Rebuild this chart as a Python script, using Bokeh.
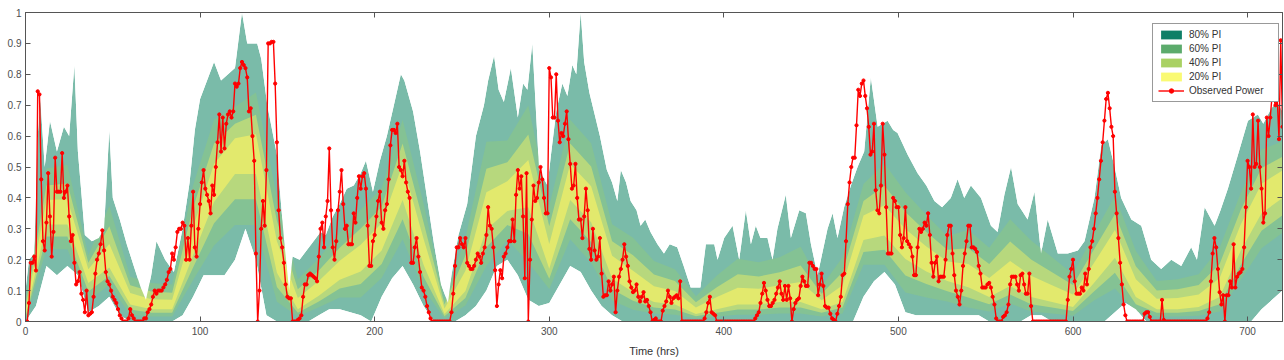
import numpy as np
from bokeh.plotting import figure
from bokeh.models import Range1d, LinearAxis, FixedTicker, CustomJSTickFormatter, Legend, LegendItem
from bokeh.embed import file_html
from bokeh.resources import INLINE

# Observed power, hourly (h = 0 .. 720)
obs = [
    0, 0, .06, .19, .19, .21, .165, .745, .735, .46, .26, .23, .32, .48, .34, .21, .29, .53, .42, .42, .42, .545, .40, .42,
    .44, .34, .26, .28, .19, .12, .13, .16, .09, .07, .03, .10, .02, .025, .03, .08, .155, .20, .22, .25, .295, .23, .16, .13,
    .12, .10, .08, .07, .06, .04, .02, .01, 0, 0, 0, .01, .04, .02, .01, 0, 0, 0, 0, 0, .01, .01, .03, .04,
    .055, .08, .10, .09, .10, .10, .10, .11, .12, .135, .16, .17, .22, .20, .24, .29, .30, .30, .32, .31, .20, .27, .20, .31,
    .42, .24, .21, .30, .38, .45, .49, .43, .41, .39, .35, .44, .41, .50, .58, .67, .55, .66, .56, .64, .67, .68, .66, .68,
    .77, .76, .77, .82, .84, .83, .82, .79, .68, .69, .60, .52, .22, 0, .10, .30, .39, .31, .49, .90, .90, .905, .905, .77,
    .58, .36, .27, .24, .19, .12, .08, .075, .075, 0, 0, 0, .005, .01, .02, .08, .12, .12, .15, .155, .15, .145, .14, .13,
    .21, .30, .32, .24, .34, .39, .56, .36, .24, .20, .26, .36, .42, .49, .38, .30, .31, .25, .25, .25, .35, .32, .40, .47,
    .43, .47, .48, .43, .31, .18, .18, .26, .28, .34, .39, .42, .32, .30, .36, .38, .46, .57, .62, .62, .61, .64, .50, .49,
    .47, .52, .45, .42, .40, .19, .19, .24, .27, .21, .16, .11, .10, .08, .05, .03, .01, 0, 0, 0, 0, 0, 0, 0,
    0, 0, 0, 0, .03, .09, .18, .24, .24, .27, .25, .24, .27, .19, .18, .17, .17, .18, .20, .22, .21, .19, .22, .24,
    .28, .37, .31, .30, .24, .166, .05, .12, .166, .14, .21, .22, .24, .26, .26, .33, .26, .41, .49, .43, .47, .34, .14, .48,
    0, .20, .33, .44, .39, .40, .45, .50, .46, .40, .35, .35, .82, .79, .66, .66, .80, .65, .58, .61, .60, .64, .68, .59,
    .51, .43, .44, .51, .40, .33, .33, .27, .34, .43, .36, .235, .20, .30, .23, .20, .21, .27, .155, .08, .085, .085, .13, .10,
    .12, .145, .03, .10, .145, .17, .20, .25, .21, .18, .13, .11, .095, .10, .12, .08, .065, .08, .095, .065, .07, .05, .03, 0,
    .005, .01, 0, 0, 0, .035, .05, .065, .10, .08, .06, .075, .08, .085, .075, .13, 0, 0, 0, 0, 0, 0, 0, 0,
    0, 0, 0, 0, 0, .01, .03, .06, .08, .03, .025, .02, 0, 0, 0, 0, 0, 0, 0, 0, 0, 0, 0, 0,
    0, 0, 0, 0, 0, 0, 0, 0, 0, 0, .01, .02, .03, .06, .09, .125, .10, .07, .05, .05, .06, .07, .09, .11,
    .13, .09, .07, .115, .07, .115, .075, 0, .04, .06, .07, .075, .115, .145, .13, .115, .115, .19, .19, .18, .17, .17, .085, .12,
    .155, .115, .05, .045, .045, .025, .01, .005, 0, .025, .05, .08, .15, .155, .26, .38, .45, .50, .53, .53, .635, .75, .73, .77,
    .78, .73, .69, .63, .54, .55, .64, .425, .36, .35, .44, .64, .54, .37, .22, .22, .22, .40, .39, .37, .37, .28, .24, .27,
    .37, .26, .25, .24, .21, .15, .15, .24, .30, .29, .30, .32, .31, .35, .28, .19, .145, .19, .21, .13, .145, .145, .145, .20,
    .28, .31, .31, .22, .15, .10, .08, .055, .10, .18, .22, .26, .31, .31, .24, .24, .235, .225, .18, .155, .11, .11, .11, .12,
    .125, .11, .08, .055, .01, 0, 0, 0, .015, .02, .03, .055, .12, .145, .145, .145, .12, .10, .15, .155, .12, .09, .09, .155,
    .05, 0, 0, 0, 0, 0, 0, 0, 0, 0, 0, 0, 0, 0, 0, 0, 0, 0, 0, 0, 0, .07, .145, .17,
    .20, .13, .09, .09, .09, .11, .10, .155, .12, .17, .24, .26, .30, .35, .40, .46, .52, .58, .65, .72, .74, .69, .63, .60,
    .42, .35, .27, .19, .12, .055, .02, 0, 0, 0, 0, 0, 0, 0, 0, 0, 0, .025, .03, .03, .015, 0, 0, 0,
    0, 0, 0, .07, .005, 0, 0, 0, 0, 0, 0, 0, 0, 0, 0, 0, 0, 0, 0, 0, 0, 0, 0, 0,
    0, 0, 0, 0, 0, .01, .03, .13, .22, .27, .24, .17, .095, .055, .085, 0, .085, .085, .13, .11, .25, .11, .145, .155,
    .16, .17, .24, .37, .52, .50, .43, .67, .50, .51, .65, .50, .43, .32, .35, .66, .60, .66, .73, .72, .70, .72, .59, .91, .63,
]
hours = list(range(len(obs)))

# 80% prediction interval: lower edge every 6 h
pi80_lo = [
    0, .05, .18, .15, .18, .15, .03, .05, .08, .02, 0, 0, 0, 0, 0, .02, .08, .15, .15, .15, .20,
    .30, .20, .02, 0, 0, 0, 0, .02, .04, .04, .03, .02, 0, .08, .14, .18, .12, .05, 0, 0,
    0, .02, .05, .10, .18, .20, .15, .07, .05, .06, .12, .18, .16, .10, .05, .02, 0, 0, 0, 0,
    0, 0, 0, 0, 0, 0, 0, 0, 0, 0, 0, 0, 0, 0, 0, 0, 0, 0, 0, .08, .13,
    .16, .12, .03, .02, .02, .02, .02, .02, .02, .02, 0, 0, 0, 0, .02, .02, 0, 0, 0, 0, 0,
    0, .03, .06, .04, 0, 0, 0, 0, 0, 0, 0, 0, 0, 0, 0, .04, .07, .10, .16, .20, .21,
]
lo_hours = [6 * i for i in range(len(pi80_lo))]

# 80% prediction interval: upper edge, read at its corners
pi80_hi_t = [
    0, 2, 5, 7, 8.5, 11, 14, 18, 22, 25, 28, 30, 31.5, 34, 38, 42, 45, 48, 50, 54,
    58, 62, 66, 69, 72, 75, 80, 85, 90, 94, 97, 100, 104, 108, 112, 116, 120, 124, 127, 132.7,
    135, 138.5, 144, 148, 151, 153, 157, 161, 165, 169, 172, 176, 180, 184, 188, 192, 195, 199, 203, 207,
    211, 215, 217, 222, 226, 230, 234, 238, 242, 244, 248, 253, 258, 262.6, 265, 268.4, 271, 274, 278, 282,
    285, 287.5, 290.3, 294.2, 299, 301, 304, 307.5, 310.4, 313.2, 315.5, 318, 320, 323, 325.6, 329, 333, 336, 339, 341,
    344, 346.6, 350, 352.3, 355, 358, 362, 365.7, 369, 373.3, 377, 381, 386.6, 389.7, 394.5, 396.4, 400.2, 405, 408.8, 412.6,
    415.5, 418.3, 421, 425, 427.9, 430.7, 435.5, 438.4, 443.2, 447, 449.9, 453.7, 459.4, 462.3, 465.1, 468.9, 472.8, 476.6, 480.4, 484.2,
    488.1, 493.8, 497, 499.5, 505.3, 511, 516, 520.6, 525, 530, 533.9, 537.7, 541.5, 547.3, 553, 556.8, 560.7, 564.5, 568.3, 574,
    577.9, 581.7, 585.5, 591.3, 597, 602.8, 606.6, 612.3, 616.2, 620, 623.8, 627.6, 633.4, 639.1, 644.8, 650.5, 656.3, 662, 667.7, 671,
    675.4, 681.1, 684.5, 688.7, 694.5, 700.2, 705.9, 709, 713.6, 717, 720,
]
pi80_hi = [
    .10, .20, .22, .60, .72, .50, .65, .55, .63, .60, .83, .55, .45, .28, .26, .27, .30, .62, .40, .33,
    .25, .18, .11, .07, .15, .26, .20, .16, .30, .45, .62, .72, .78, .84, .78, .80, .82, 1.0, .90, .90,
    .85, .70, .54, .27, .10, .21, .20, .23, .26, .29, .28, .34, .38, .43, .44, .48, .52, .42, .52, .60,
    .70, .80, .78, .68, .55, .40, .25, .12, .06, .15, .28, .38, .60, .70, .78, .86, .75, .71, .82, .66,
    .77, .75, .90, .49, .44, .54, .68, .77, .73, .83, .80, 1.0, .84, .74, .68, .60, .49, .45, .39, .49,
    .45, .39, .36, .31, .33, .29, .25, .22, .25, .24, .18, .11, .11, .25, .25, .20, .27, .31, .20, .36,
    .25, .31, .27, .27, .20, .30, .41, .27, .36, .35, .25, .15, .30, .35, .27, .37, .44, .50, .55, .79,
    .63, .65, .62, .61, .54, .48, .44, .39, .37, .40, .46, .40, .44, .40, .31, .29, .41, .50, .38, .33,
    .42, .22, .33, .22, .22, .23, .26, .40, .57, .59, .50, .40, .33, .31, .20, .17, .20, .18, .24, .20,
    .37, .31, .36, .43, .54, .65, .67, .64, .69, .71, .68,
]

# Inner intervals, every 12 h
pi60_lo = [.006, .234, .234, .068, .118, .022, .016, .016, .134, .246, .312, .312, .064, .016, .046, .078, .078, .141, .266, .104, .01,
           .052, .18, .264, .192, .105, .266, .19, .068, .038, .026, .022, .01, .016, .022, .022, .026, .026, .016, .026, .184,
           .184, .094, .078, .065, .045, .032, .058, .032, .026, .019, .068, .107, .032, .016, .016, .019, .032, .134, .237, .287]
pi60_hi = [.066, .495, .507, .214, .374, .145, .125, .12, .441, .653, .695, .741, .403, .137, .204, .288, .362, .432, .653, .382, .071,
           .271, .582, .586, .699, .374, .653, .577, .315, .271, .196, .169, .082, .149, .203, .192, .208, .242, .114, .208, .445,
           .511, .418, .345, .276, .297, .239, .331, .262, .208, .153, .283, .407, .228, .131, .137, .153, .239, .415, .557, .583]
pi40_lo = [.011, .275, .275, .097, .147, .039, .028, .028, .175, .318, .396, .396, .112, .028, .065, .107, .121, .186, .331, .145, .017,
           .076, .24, .312, .283, .138, .331, .257, .104, .067, .045, .039, .017, .028, .039, .039, .045, .045, .028, .045, .225,
           .232, .149, .121, .098, .078, .056, .087, .056, .045, .034, .097, .158, .056, .028, .028, .034, .056, .182, .294, .344]
pi40_hi = [.049, .44, .447, .19, .308, .117, .097, .093, .369, .576, .64, .669, .326, .104, .165, .239, .301, .371, .576, .321, .055,
           .214, .494, .515, .605, .308, .576, .502, .26, .214, .152, .131, .062, .111, .153, .146, .159, .181, .09, .159, .39,
           .439, .354, .29, .232, .237, .186, .259, .201, .159, .118, .233, .347, .179, .10, .104, .118, .186, .36, .497, .533]
pi20_lo = [.016, .314, .314, .125, .175, .055, .04, .04, .214, .387, .477, .477, .158, .04, .083, .135, .162, .23, .393, .184, .024,
           .099, .298, .358, .37, .171, .393, .321, .139, .095, .063, .055, .024, .04, .055, .055, .063, .063, .04, .063, .264,
           .278, .202, .162, .131, .111, .079, .115, .079, .063, .047, .125, .206, .079, .04, .04, .047, .079, .228, .35, .40]
pi20_hi = [.034, .393, .396, .169, .251, .092, .072, .07, .306, .51, .593, .606, .26, .076, .131, .197, .248, .318, .51, .268, .042,
           .164, .418, .454, .523, .251, .51, .438, .213, .164, .114, .099, .045, .079, .109, .106, .117, .128, .069, .117, .343,
           .376, .299, .243, .194, .186, .141, .196, .148, .117, .087, .189, .296, .137, .074, .076, .087, .141, .313, .446, .489]
inner_hours = [12 * i for i in range(len(pi60_lo))]

x_ticks = [0, 100, 200, 300, 400, 500, 600, 700]
y_ticks = [0, 0.1, 0.2, 0.3, 0.4, 0.5, 0.6, 0.7, 0.8, 0.9, 1.0]
band_labels = ["80% PI", "60% PI", "40% PI", "20% PI"]
obs_label = "Observed Power"

band_colors = ["#7ABBA9", "#84C294", "#B7D87D", "#E2E96D"]
legend_colors = ["#0F7F67", "#5CAB6C", "#A9D163", "#FAFA73"]

FONT = "Liberation Sans"
AX = "#555555"
X0, X1, Y0, Y1 = 0, 720, 0, 1

p = figure(width=1284, height=360, output_backend="svg", toolbar_location=None,
           x_range=Range1d(X0, X1), y_range=Range1d(Y0, Y1),
           min_border_left=25, min_border_right=2, min_border_top=12, min_border_bottom=39)
p.background_fill_color = "white"
p.border_fill_color = "white"
p.outline_line_color = AX
p.outline_line_width = 1
p.xgrid.visible = False
p.ygrid.visible = False

# hidden proxies carrying legend colours
proxies = [
    p.varea(x=lo_hours, y1=pi80_lo, y2=pi80_lo, fill_color=legend_colors[0], visible=False),
    p.varea(x=inner_hours, y1=pi60_lo, y2=pi60_hi, fill_color=legend_colors[1], visible=False),
    p.varea(x=inner_hours, y1=pi40_lo, y2=pi40_hi, fill_color=legend_colors[2], visible=False),
    p.varea(x=inner_hours, y1=pi20_lo, y2=pi20_hi, fill_color=legend_colors[3], visible=False),
]

# outer band as polygon (upper edge forward, lower edge back)
p.patch(x=pi80_hi_t + lo_hours[::-1], y=pi80_hi + pi80_lo[::-1],
        fill_color=band_colors[0], line_color=None)
p.varea(x=inner_hours, y1=pi60_lo, y2=pi60_hi, fill_color=band_colors[1])
p.varea(x=inner_hours, y1=pi40_lo, y2=pi40_hi, fill_color=band_colors[2])
p.varea(x=inner_hours, y1=pi20_lo, y2=pi20_hi, fill_color=band_colors[3])
# keep the inner bands inside the 80% envelope
p.patch(x=pi80_hi_t + [X1, X0], y=pi80_hi + [Y1, Y1], fill_color="white", line_color=None)
p.varea(x=lo_hours, y1=[Y0] * len(lo_hours), y2=pi80_lo, fill_color="white")

ln = p.line(hours, obs, line_color="#FF0000", line_width=1.4)
sc = p.scatter(hours, obs, marker="circle", size=3.2, fill_color="#FF0000", line_color="#FF0000")

items = [LegendItem(label=lab, renderers=[r]) for lab, r in zip(band_labels, proxies)]
items.append(LegendItem(label=obs_label, renderers=[ln, sc]))
legend = Legend(items=items, location=(1127, 219), orientation="vertical")
legend.label_text_font = FONT
legend.label_text_font_size = "10px"
legend.label_text_color = "#333333"
legend.glyph_width = 26
legend.glyph_height = 11
legend.label_height = 11
legend.spacing = 3
legend.padding = 5
legend.margin = 0
legend.label_standoff = 5
legend.label_width = 84
legend.border_line_color = "#333333"
legend.border_line_width = 1
legend.background_fill_alpha = 1.0
legend.inactive_fill_alpha = 0.0
p.add_layout(legend, "center")

fmt = CustomJSTickFormatter(code="return Number(tick.toFixed(1)).toString();")
for ax in (p.xaxis[0], p.yaxis[0]):
    ax.major_tick_in = 5
    ax.major_tick_out = 0
    ax.minor_tick_line_color = None
    ax.axis_line_color = AX
    ax.major_tick_line_color = AX
    ax.major_label_text_font = FONT
    ax.major_label_text_font_size = "10px"
    ax.major_label_text_color = "#4D4D4D"
p.xaxis[0].ticker = FixedTicker(ticks=x_ticks)
p.yaxis[0].ticker = FixedTicker(ticks=y_ticks)
p.yaxis[0].formatter = fmt
p.xaxis[0].formatter = fmt
p.xaxis[0].major_label_standoff = 5
p.yaxis[0].major_label_standoff = 4
p.xaxis[0].axis_label = "Time (hrs)"
p.xaxis[0].axis_label_text_font = FONT
p.xaxis[0].axis_label_text_font_size = "11px"
p.xaxis[0].axis_label_text_font_style = "normal"
p.xaxis[0].axis_label_text_color = "#333333"
p.xaxis[0].axis_label_standoff = 7

blank = CustomJSTickFormatter(code="return '';")
top = LinearAxis(ticker=FixedTicker(ticks=x_ticks), formatter=blank, major_label_text_font_size="1px",
                 major_label_text_color=None,
                 major_tick_in=5, major_tick_out=0, minor_tick_line_color=None,
                 axis_line_color=AX, major_tick_line_color=AX, major_label_standoff=0)
right = LinearAxis(ticker=FixedTicker(ticks=y_ticks), formatter=blank, major_label_text_font_size="1px",
                   major_label_text_color=None,
                   major_tick_in=5, major_tick_out=0, minor_tick_line_color=None,
                   axis_line_color=AX, major_tick_line_color=AX, major_label_standoff=0)
p.add_layout(top, "above")
p.add_layout(right, "right")

open("out.html", "w").write(file_html(p, INLINE))
